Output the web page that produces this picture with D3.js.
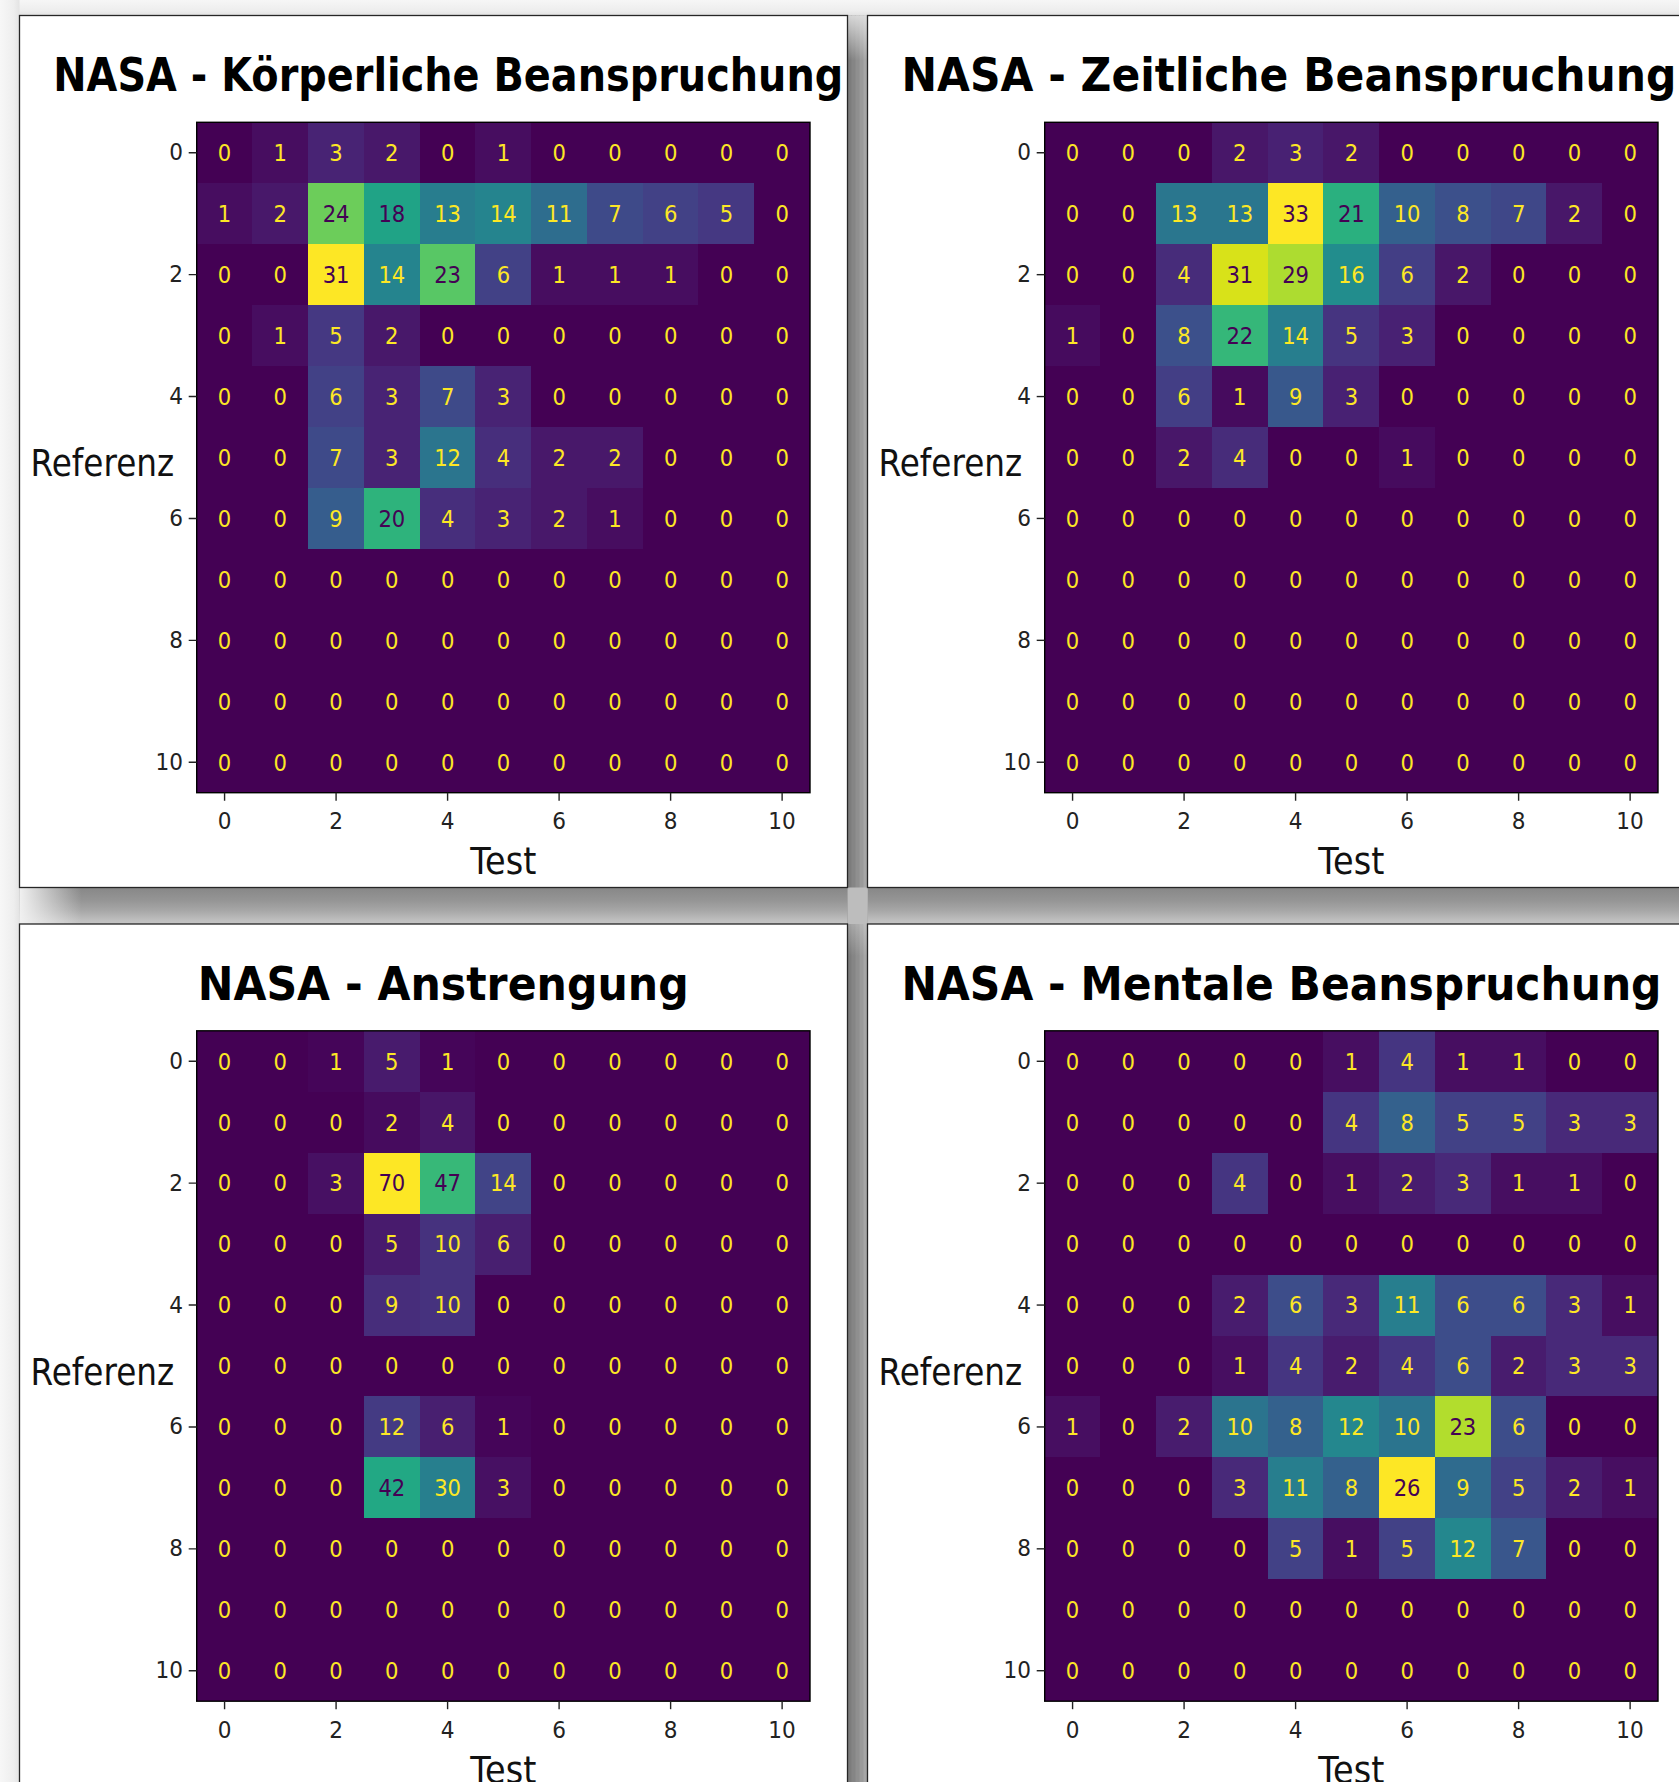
<!DOCTYPE html>
<html>
<head>
<meta charset="utf-8">
<script src="https://cdn.jsdelivr.net/npm/d3@7"></script>
<style>
  html, body { margin: 0; padding: 0; background: #f2f2f2; overflow: hidden; }
  svg { display: block; }
  text { font-family: "DejaVu Sans", sans-serif; }
</style>
</head>
<body>
<svg id="chart" width="1679" height="1782"></svg>
<script>
// ---- data -------------------------------------------------------------
// score categories on both axes (Test = columns, Referenz = rows)
const scoreCategories = d3.range(11);
const tickLabels = [0, 2, 4, 6, 8, 10];

const titles = [
  "NASA - Körperliche Beanspruchung",
  "NASA - Zeitliche Beanspruchung",
  "NASA - Anstrengung",
  "NASA - Mentale Beanspruchung"
];

// confusion matrices: rows = Referenz 0..10, columns = Test 0..10
const koerperlicheBeanspruchung = [
  [0, 1, 3, 2, 0, 1, 0, 0, 0, 0, 0],
  [1, 2, 24, 18, 13, 14, 11, 7, 6, 5, 0],
  [0, 0, 31, 14, 23, 6, 1, 1, 1, 0, 0],
  [0, 1, 5, 2, 0, 0, 0, 0, 0, 0, 0],
  [0, 0, 6, 3, 7, 3, 0, 0, 0, 0, 0],
  [0, 0, 7, 3, 12, 4, 2, 2, 0, 0, 0],
  [0, 0, 9, 20, 4, 3, 2, 1, 0, 0, 0],
  [0, 0, 0, 0, 0, 0, 0, 0, 0, 0, 0],
  [0, 0, 0, 0, 0, 0, 0, 0, 0, 0, 0],
  [0, 0, 0, 0, 0, 0, 0, 0, 0, 0, 0],
  [0, 0, 0, 0, 0, 0, 0, 0, 0, 0, 0]
];

const zeitlicheBeanspruchung = [
  [0, 0, 0, 2, 3, 2, 0, 0, 0, 0, 0],
  [0, 0, 13, 13, 33, 21, 10, 8, 7, 2, 0],
  [0, 0, 4, 31, 29, 16, 6, 2, 0, 0, 0],
  [1, 0, 8, 22, 14, 5, 3, 0, 0, 0, 0],
  [0, 0, 6, 1, 9, 3, 0, 0, 0, 0, 0],
  [0, 0, 2, 4, 0, 0, 1, 0, 0, 0, 0],
  [0, 0, 0, 0, 0, 0, 0, 0, 0, 0, 0],
  [0, 0, 0, 0, 0, 0, 0, 0, 0, 0, 0],
  [0, 0, 0, 0, 0, 0, 0, 0, 0, 0, 0],
  [0, 0, 0, 0, 0, 0, 0, 0, 0, 0, 0],
  [0, 0, 0, 0, 0, 0, 0, 0, 0, 0, 0]
];

const anstrengung = [
  [0, 0, 1, 5, 1, 0, 0, 0, 0, 0, 0],
  [0, 0, 0, 2, 4, 0, 0, 0, 0, 0, 0],
  [0, 0, 3, 70, 47, 14, 0, 0, 0, 0, 0],
  [0, 0, 0, 5, 10, 6, 0, 0, 0, 0, 0],
  [0, 0, 0, 9, 10, 0, 0, 0, 0, 0, 0],
  [0, 0, 0, 0, 0, 0, 0, 0, 0, 0, 0],
  [0, 0, 0, 12, 6, 1, 0, 0, 0, 0, 0],
  [0, 0, 0, 42, 30, 3, 0, 0, 0, 0, 0],
  [0, 0, 0, 0, 0, 0, 0, 0, 0, 0, 0],
  [0, 0, 0, 0, 0, 0, 0, 0, 0, 0, 0],
  [0, 0, 0, 0, 0, 0, 0, 0, 0, 0, 0]
];

const mentaleBeanspruchung = [
  [0, 0, 0, 0, 0, 1, 4, 1, 1, 0, 0],
  [0, 0, 0, 0, 0, 4, 8, 5, 5, 3, 3],
  [0, 0, 0, 4, 0, 1, 2, 3, 1, 1, 0],
  [0, 0, 0, 0, 0, 0, 0, 0, 0, 0, 0],
  [0, 0, 0, 2, 6, 3, 11, 6, 6, 3, 1],
  [0, 0, 0, 1, 4, 2, 4, 6, 2, 3, 3],
  [1, 0, 2, 10, 8, 12, 10, 23, 6, 0, 0],
  [0, 0, 0, 3, 11, 8, 26, 9, 5, 2, 1],
  [0, 0, 0, 0, 5, 1, 5, 12, 7, 0, 0],
  [0, 0, 0, 0, 0, 0, 0, 0, 0, 0, 0],
  [0, 0, 0, 0, 0, 0, 0, 0, 0, 0, 0]
];

const matrices = [koerperlicheBeanspruchung, zeitlicheBeanspruchung, anstrengung, mentaleBeanspruchung];

// ---- layout -----------------------------------------------------------
const W = 1679, H = 1782;
const DX = 848, DY = 908.5;             // offset between window columns / rows
const panelOrigins = [[0, 0], [DX, 0], [0, DY], [DX, DY]];
const frame = { x: 19.5, y: 15.5, w: 828, h: 872 };
const heat = { x0: 196.7, x1: 810, y0: 122.3, y1: 792.7 };
const titleLayout = [
  { x: 53.3, w: 790 },
  { x: 53.5, w: 775 },
  { x: 197.7, w: 491 },
  { x: 53.5, w: 760 }
];
const SX = 0.92;                         // horizontal squeeze of the small labels

const svg = d3.select("#chart");
const defs = svg.append("defs");

function linGrad(id, horizontal, stops) {
  const g = defs.append("linearGradient").attr("id", id)
    .attr("x1", 0).attr("y1", 0)
    .attr("x2", horizontal ? 1 : 0).attr("y2", horizontal ? 0 : 1);
  stops.forEach(([o, c, a]) => g.append("stop").attr("offset", o)
    .attr("stop-color", c).attr("stop-opacity", a === undefined ? 1 : a));
}
linGrad("hband", false, [[0, "#878787"], [0.35, "#959595"], [0.62, "#a6a6a6"], [0.9, "#bfbfbf"], [1, "#c6c6c6"]]);
linGrad("fadeRight", true, [[0, "#f1f1f1", 1], [1, "#f1f1f1", 0]]);
linGrad("fadeDown", false, [[0, "#e6e6e6", 1], [1, "#e6e6e6", 0]]);
linGrad("topStrip", false, [[0, "#f6f6f6"], [0.7, "#ededed"], [1, "#e2e2e2"]]);
linGrad("leftStrip", true, [[0, "#f7f7f7"], [0.7, "#eeeeee"], [1, "#e3e3e3"]]);

// ---- desktop background and window shadows ---------------------------
const bg = svg.append("g");
bg.append("rect").attr("width", W).attr("height", H).attr("fill", "#f2f2f2");
bg.append("rect").attr("x", 0).attr("y", 0).attr("width", W).attr("height", frame.y)
  .attr("fill", "url(#topStrip)");
bg.append("rect").attr("x", 0).attr("y", 0).attr("width", frame.x).attr("height", H)
  .attr("fill", "url(#leftStrip)");

const bandY0 = frame.y + frame.h, bandY1 = frame.y + DY;
const vbX0 = frame.x + frame.w, vbX1 = frame.x + DX;
// horizontal shadow band between the two window rows
bg.append("rect").attr("x", frame.x).attr("y", bandY0).attr("width", W - frame.x)
  .attr("height", bandY1 - bandY0).attr("fill", "url(#hband)");
bg.append("rect").attr("x", frame.x).attr("y", bandY0).attr("width", 62)
  .attr("height", bandY1 - bandY0).attr("fill", "url(#fadeRight)");
// vertical shadow band between the two window columns, in solid stripes
const vStripes = ["#7c7c7c", "#858585", "#8f8f8f", "#9a9a9a", "#a6a6a6"];
const stripeW = (vbX1 - vbX0) / vStripes.length;
vStripes.forEach((c, s) => {
  bg.append("rect").attr("x", vbX0 + s * stripeW).attr("y", frame.y)
    .attr("width", stripeW + 0.5).attr("height", H - frame.y).attr("fill", c);
});
bg.append("rect").attr("x", vbX0).attr("y", frame.y).attr("width", vbX1 - vbX0)
  .attr("height", 45).attr("fill", "url(#fadeDown)").attr("opacity", 0.85);
bg.append("rect").attr("x", vbX0).attr("y", bandY1).attr("width", vbX1 - vbX0)
  .attr("height", 32).attr("fill", "url(#fadeDown)").attr("opacity", 0.35);
bg.append("rect").attr("x", vbX0).attr("y", bandY0).attr("width", vbX1 - vbX0)
  .attr("height", bandY1 - bandY0).attr("fill", "#bdbdbd");

// ---- one window per matrix ------------------------------------------
const x = d3.scaleBand().domain(scoreCategories).range([heat.x0, heat.x1]).padding(0);
const y = d3.scaleBand().domain(scoreCategories).range([heat.y0, heat.y1]).padding(0);

matrices.forEach((matrix, k) => {
  const [ox, oy] = panelOrigins[k];
  defs.append("clipPath").attr("id", "clip" + k)
    .append("rect").attr("x", frame.x).attr("y", frame.y)
    .attr("width", frame.w).attr("height", frame.h);

  const win = svg.append("g").attr("transform", `translate(${ox},${oy})`);
  win.append("rect").attr("x", frame.x).attr("y", frame.y)
    .attr("width", frame.w).attr("height", frame.h)
    .attr("fill", "#ffffff").attr("stroke", "#262626").attr("stroke-width", 1.3);

  const g = win.append("g").attr("clip-path", `url(#clip${k})`);

  // title
  g.append("text")
    .attr("x", titleLayout[k].x).attr("y", 91)
    .attr("font-size", 46).attr("font-weight", "bold").attr("fill", "#000")
    .attr("textLength", titleLayout[k].w).attr("lengthAdjust", "spacingAndGlyphs")
    .text(titles[k]);

  const flat = matrix.flat();
  const vmin = d3.min(flat), vmax = d3.max(flat);
  const color = d3.scaleSequential(d3.interpolateViridis).domain([vmin, vmax]);
  const thresh = (vmin + vmax) / 2;

  const cells = [];
  matrix.forEach((row, i) => row.forEach((v, j) => cells.push({ i, j, v })));

  g.append("g").attr("shape-rendering", "crispEdges")
    .selectAll("rect").data(cells).join("rect")
    .attr("x", d => x(d.j)).attr("y", d => y(d.i))
    .attr("width", d => x.bandwidth() + (d.j < 10 ? 1 : 0))
    .attr("height", d => y.bandwidth() + (d.i < 10 ? 1 : 0))
    .attr("fill", d => color(d.v));

  g.append("g").selectAll("text").data(cells).join("text")
    .attr("transform", d => `translate(${x(d.j) + x.bandwidth() / 2},${y(d.i) + y.bandwidth() / 2}) scale(${SX},1)`)
    .attr("text-anchor", "middle").attr("dy", "0.36em")
    .attr("font-size", 23)
    .attr("fill", d => d.v < thresh ? d3.interpolateViridis(1) : d3.interpolateViridis(0))
    .text(d => d.v);

  // heatmap frame
  g.append("rect").attr("x", heat.x0).attr("y", heat.y0)
    .attr("width", heat.x1 - heat.x0).attr("height", heat.y1 - heat.y0)
    .attr("fill", "none").attr("stroke", "#000").attr("stroke-width", 1.4);

  // axes
  const tickLen = 8;
  const yAxis = g.append("g").attr("transform", `translate(${heat.x0},0)`)
    .call(d3.axisLeft(y).tickValues(tickLabels).tickSize(tickLen).tickPadding(5.6));
  const xAxis = g.append("g").attr("transform", `translate(0,${heat.y1})`)
    .call(d3.axisBottom(x).tickValues(tickLabels).tickSize(tickLen).tickPadding(12));
  [yAxis, xAxis].forEach(ax => {
    ax.select(".domain").remove();
    ax.selectAll(".tick line").attr("stroke", "#222").attr("stroke-width", 1.4);
    ax.selectAll(".tick text").attr("font-size", 23.5).attr("fill", "#222")
      .attr("font-family", "DejaVu Sans");
  });
  yAxis.selectAll(".tick text")
    .attr("x", -(tickLen + 5.6) / SX).attr("transform", `scale(${SX},1)`);
  xAxis.selectAll(".tick text").attr("transform", `scale(${SX},1)`);

  // axis labels
  g.append("text").attr("x", 30.5).attr("y", 476)
    .attr("font-size", 36.5).attr("fill", "#111")
    .attr("textLength", 143.7).attr("lengthAdjust", "spacingAndGlyphs")
    .text("Referenz");
  g.append("text").attr("x", (heat.x0 + heat.x1) / 2).attr("y", 874.3)
    .attr("text-anchor", "middle")
    .attr("font-size", 36.5).attr("fill", "#111")
    .attr("textLength", 66).attr("lengthAdjust", "spacingAndGlyphs")
    .text("Test");
});
</script>
</body>
</html>
